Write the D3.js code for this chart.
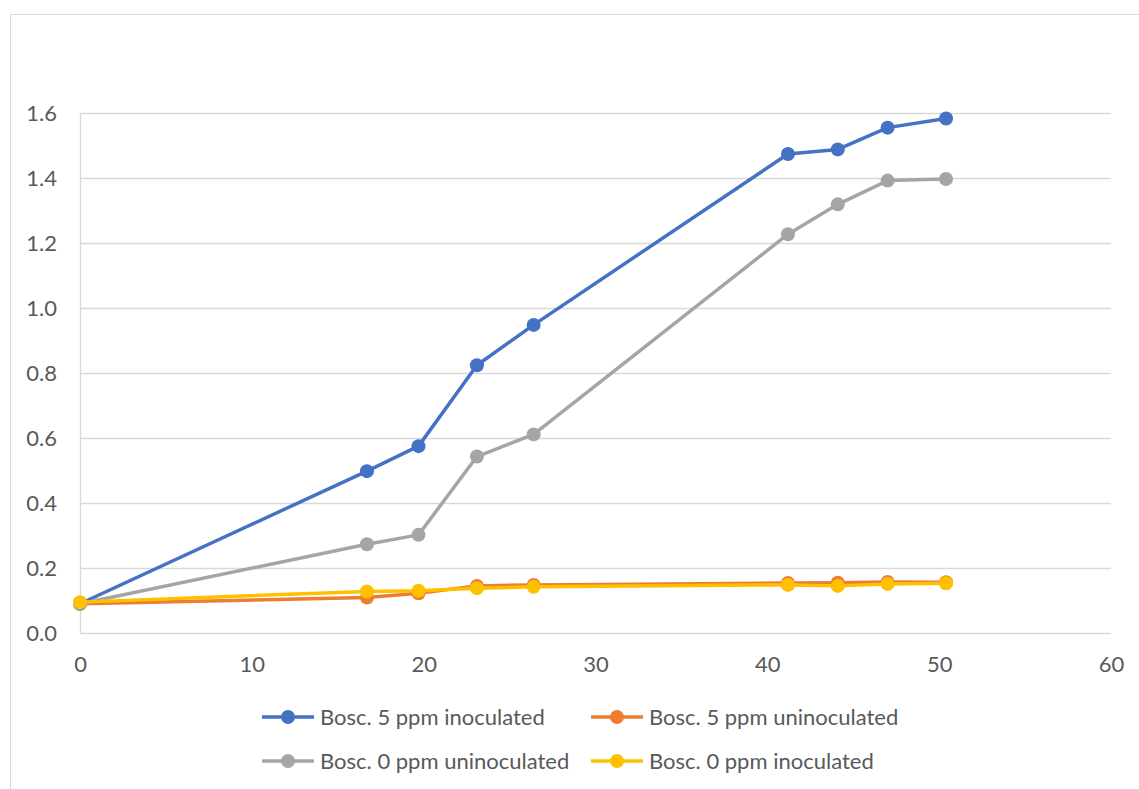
<!DOCTYPE html>
<html>
<head>
<meta charset="utf-8">
<script src="https://cdn.jsdelivr.net/npm/d3@7"></script>
<style>
  html, body { margin: 0; padding: 0; background: #fff; }
  svg { display: block; }
  text { font-family: Lato, "Open Sans", sans-serif; fill: #595959; }
</style>
</head>
<body>
<svg id="chart" width="1139" height="789"></svg>
<script>
// Days after inoculation (x values shared by all series)
const days = [0, 16.7, 19.7, 23.1, 26.4, 41.2, 44.1, 47.0, 50.4];

// Series values
const bosc5Inoc   = [0.09, 0.498, 0.575, 0.824, 0.948, 1.474, 1.488, 1.555, 1.583];
const bosc5Uninoc = [0.09, 0.109, 0.122, 0.145, 0.148, 0.154, 0.155, 0.157, 0.156];
const bosc0Uninoc = [0.09, 0.273, 0.302, 0.543, 0.611, 1.227, 1.319, 1.392, 1.397];
const bosc0Inoc   = [0.095, 0.128, 0.130, 0.138, 0.142, 0.148, 0.145, 0.151, 0.153];

const seriesNames  = ["Bosc. 5 ppm inoculated", "Bosc. 5 ppm uninoculated",
                      "Bosc. 0 ppm uninoculated", "Bosc. 0 ppm inoculated"];
const seriesColors = ["#4472C4", "#ED7D31", "#A5A5A5", "#FFC000"];
const seriesValues = [bosc5Inoc, bosc5Uninoc, bosc0Uninoc, bosc0Inoc];

// Tick labels
const xTicks = [0, 10, 20, 30, 40, 50, 60];
const yTicks = [0, 0.2, 0.4, 0.6, 0.8, 1.0, 1.2, 1.4, 1.6];

const FONT = 22;
const svg = d3.select("#chart");

// Outer chart frame
svg.append("rect")
  .attr("x", 10.5).attr("y", 14.5)
  .attr("width", 1160).attr("height", 800)
  .attr("fill", "none").attr("stroke", "#d9d9d9").attr("stroke-width", 1);

const plot = { left: 80, right: 1111, top: 113, bottom: 633 };

const x = d3.scaleLinear().domain([0, 60]).range([plot.left, plot.right]);
const y = d3.scaleLinear().domain([0, 1.6]).range([plot.bottom, plot.top]);

// Horizontal gridlines
svg.append("g")
  .selectAll("line")
  .data(yTicks)
  .join("line")
  .attr("x1", plot.left).attr("x2", plot.right)
  .attr("y1", d => Math.round(y(d)) + 0.5).attr("y2", d => Math.round(y(d)) + 0.5)
  .attr("stroke", "#d9d9d9").attr("stroke-width", 1.3);

// Vertical axis line
svg.append("line")
  .attr("x1", plot.left + 0.5).attr("x2", plot.left + 0.5)
  .attr("y1", plot.top).attr("y2", plot.bottom)
  .attr("stroke", "#d9d9d9").attr("stroke-width", 1.3);

// Y axis labels
const yAxis = d3.axisLeft(y).tickValues(yTicks).tickFormat(d3.format(".1f")).tickSize(0).tickPadding(0);
const gy = svg.append("g").attr("transform", `translate(${plot.left - 23},0)`).call(yAxis);
gy.select(".domain").remove();
gy.selectAll("text")
  .attr("font-size", FONT).attr("dy", "0.36em")
  .style("font-family", "Lato, 'Open Sans', sans-serif").attr("fill", "#595959");

// X axis labels
const xAxis = d3.axisBottom(x).tickValues(xTicks).tickFormat(d3.format("d")).tickSize(0).tickPadding(0);
const gx = svg.append("g").attr("transform", `translate(0,${plot.bottom + 39})`).call(xAxis);
gx.select(".domain").remove();
gx.selectAll("text")
  .attr("font-size", FONT).attr("y", 0).attr("dy", 0)
  .style("font-family", "Lato, 'Open Sans', sans-serif").attr("fill", "#595959");

// Lines and markers, drawn in series order
const line = d3.line().x((d, i) => x(days[i])).y(d => y(d));

seriesValues.forEach((vals, s) => {
  const g = svg.append("g");
  g.append("path")
    .datum(vals)
    .attr("d", line)
    .attr("fill", "none")
    .attr("stroke", seriesColors[s])
    .attr("stroke-width", 3.5)
    .attr("stroke-linejoin", "round")
    .attr("stroke-linecap", "round");
  g.selectAll("circle")
    .data(vals)
    .join("circle")
    .attr("cx", (d, i) => x(days[i]))
    .attr("cy", d => y(d))
    .attr("r", 7)
    .attr("fill", seriesColors[s]);
});

// Legend: two rows, two columns
const legendPos = [
  { lx: 262, ly: 717 }, { lx: 591, ly: 717 },
  { lx: 262, ly: 761 }, { lx: 591, ly: 761 }
];
const legend = svg.append("g");
legendPos.forEach((p, s) => {
  const item = legend.append("g");
  item.append("line")
    .attr("x1", p.lx).attr("x2", p.lx + 52)
    .attr("y1", p.ly).attr("y2", p.ly)
    .attr("stroke", seriesColors[s]).attr("stroke-width", 3.5);
  item.append("circle")
    .attr("cx", p.lx + 26).attr("cy", p.ly).attr("r", 7)
    .attr("fill", seriesColors[s]);
  item.append("text")
    .attr("x", p.lx + 58).attr("y", p.ly).attr("dy", "0.36em")
    .attr("font-size", FONT)
    .text(seriesNames[s]);
});
</script>
</body>
</html>
